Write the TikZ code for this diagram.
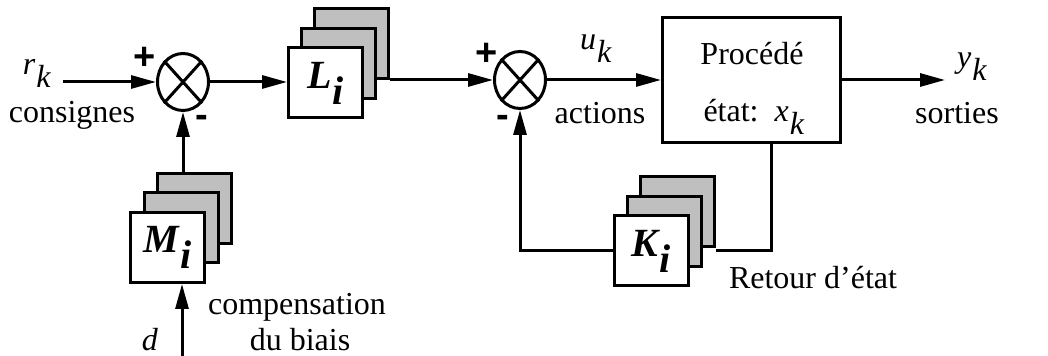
\documentclass[tikz,border=0pt]{standalone}
\usepackage{fontspec}
\setmainfont{Liberation Serif}
\newfontfamily\signfont{Liberation Sans}
\usetikzlibrary{arrows.meta,positioning,shapes.geometric,calc}
\newcommand\sig[2]{\textit{#1}\kern0.5pt\raisebox{-6.5pt}{\textit{#2}}}
\newcommand\gain[2]{{\fontsize{20}{22}\selectfont\textbf{\textit{#1}}\raisebox{-8pt}{\textbf{\textit{#2}}}}}

\begin{document}
\begin{tikzpicture}[x=0.5pt,y=-0.5pt,>={Triangle[length=12.5pt,width=6.5pt]},line width=1.5pt,
  every node/.style={font=\fontsize{16}{19}\selectfont}]
\tikzstyle{box}=[draw,fill=white,minimum width=37pt,minimum height=35pt,inner sep=0pt]
\tikzstyle{back}=[box,fill=black!25]
\tikzstyle{sum}=[draw,ellipse,minimum width=25.5pt,minimum height=28.5pt,inner sep=0pt]
\tikzstyle{sgn}=[font=\fontsize{19}{19}\selectfont\signfont\bfseries,inner sep=0pt]
\tikzstyle{lbl}=[anchor=base,inner sep=0pt]
\useasboundingbox (0,0) rectangle (1048,356);

% summing junctions
\node[sum] (s1) at (183,82) {};
\node[sum] (s2) at (520,80) {};
\draw (s1.north west) -- (s1.south east) (s1.north east) -- (s1.south west);
\draw (s2.north west) -- (s2.south east) (s2.north east) -- (s2.south west);
\node[sgn] (p1) at (145,58) {+};
\node[sgn] (m1) at (202,121) {-};
\node[sgn] (p2) at (487,54) {+};
\node[sgn] (m2) at (503,121) {-};

% stacked gains
\node[back] (L2) at (351.5,44) {};
\node[back] (L1) at (338.5,63.5) {};
\node[box] (L) at (325.5,83) {\gain{L}{i}};
\node[back] (M2) at (194,208.5) {};
\node[back] (M1) at (181,228) {};
\node[box] (M) at (167.5,247.5) {\gain{M}{i}};
\node[back] (K2) at (677,212) {};
\node[back] (K1) at (664,231.5) {};
\node[box] (K) at (651,251) {\gain{K}{i}};

% process
\node[draw,minimum width=89pt,minimum height=62.5pt] (P) at (751.5,80) {};
\node[lbl] (proc) at (752,65) {Procédé};
\node[lbl] (etat) at (754,122) {état:\ \ \sig{x}{k}};

% signals
\coordinate (rin) at (63,82);
\coordinate (yout) at (945,80);
\coordinate (din) at (182,356);
\coordinate (fb) at ($(P.south)+(20,0)$);
\draw[->] (rin) -- (s1.west);
\draw[->] (s1.east) -- (s1 -| L.west);
\draw[->] (L2.east |- s2) -- (s2.west);
\draw[->] (s2.east) -- (s2 -| P.west);
\draw[->] (P.east |- s2) -- (yout);
\draw (fb) |- (K2.east |- K.west);
\draw[->] (K.west) -| (s2.south);
\draw[->] (M2.north -| s1) -- (s1.south);
\draw[->] (din) -- (din |- M.south);

% labels
\node[lbl] (rk) at (37,75) {\sig{r}{k}};
\node[lbl] (cons) at (72,123) {consignes};
\node[lbl] (uk) at (596,50) {\sig{u}{k}};
\node[lbl] (act) at (600,124) {actions};
\node[lbl] (yk) at (972,68) {\sig{y}{k}};
\node[lbl] (sort) at (957,124) {sorties};
\node[lbl] (ret) at (813,289) {Retour d'état};
\node[lbl] (comp) at (297,315) {compensation};
\node[lbl] (biais) at (300,351) {du biais};
\node[lbl] (dk) at (150,351) {\textit{d}};
\end{tikzpicture}
\end{document}
